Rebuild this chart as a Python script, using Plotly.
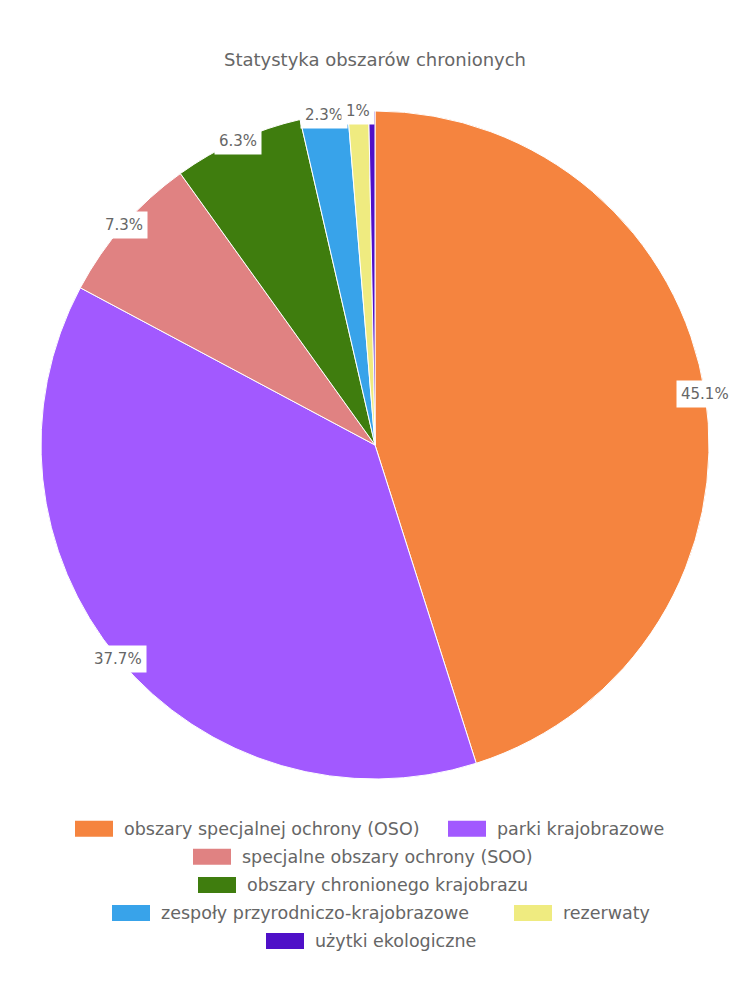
import math
import plotly.graph_objects as go

categories = [
    "obszary specjalnej ochrony (OSO)",
    "parki krajobrazowe",
    "specjalne obszary ochrony (SOO)",
    "obszary chronionego krajobrazu",
    "zespoły przyrodniczo-krajobrazowe",
    "rezerwaty",
    "użytki ekologiczne",
]
values = [45.1, 37.7, 7.3, 6.3, 2.3, 1.0, 0.3]
colors = ["#F5843F", "#A259FF", "#E08282", "#3F7D0E", "#38A3EA", "#EFEB80", "#4F10C8"]

W, H = 750, 1000
CX, CY, R = 375, 445, 334
FONT = "DejaVu Sans"
GRAY = "#666666"

fig = go.Figure()
fig.add_trace(go.Pie(
    labels=categories,
    values=values,
    sort=False,
    direction="clockwise",
    rotation=0,
    textinfo="none",
    hoverinfo="label+percent",
    marker=dict(colors=colors, line=dict(color="white", width=1)),
    domain=dict(x=[(CX - R) / W, (CX + R) / W], y=[1 - (CY + R) / H, 1 - (CY - R) / H]),
    showlegend=False,
))

annotations = []
shapes = []

# percentage labels on the rim
total = sum(values)
cum = 0.0
for v in values:
    mid = (cum + v / 2) / total * 2 * math.pi
    cum += v
    if v < 0.5:
        continue
    px = CX + R * math.sin(mid)
    py = CY - R * math.cos(mid)
    annotations.append(dict(
        x=px / W, y=1 - py / H, xref="paper", yref="paper",
        text=f"{v:g}%", showarrow=False,
        font=dict(family=FONT, size=15, color=GRAY),
        bgcolor="white", borderpad=4,
        xanchor="center", yanchor="middle",
    ))

# legend rows (box left x positions in px, row centre y)
legend_rows = [
    (828.7, [(0, 75), (1, 448)]),
    (856.8, [(2, 193)]),
    (884.9, [(3, 198)]),
    (913.0, [(4, 112), (5, 514)]),
    (941.0, [(6, 266)]),
]
BW, BH = 38, 16
for yc, items in legend_rows:
    for idx, bx in items:
        shapes.append(dict(
            type="rect", xref="paper", yref="paper",
            x0=bx / W, x1=(bx + BW) / W,
            y0=1 - (yc + BH / 2) / H, y1=1 - (yc - BH / 2) / H,
            fillcolor=colors[idx], line=dict(width=0),
        ))
        annotations.append(dict(
            x=(bx + BW + 9) / W, y=1 - yc / H, xref="paper", yref="paper",
            text=categories[idx], showarrow=False,
            font=dict(family=FONT, size=17.5, color=GRAY),
            xanchor="left", yanchor="middle",
        ))

fig.update_layout(
    width=W, height=H,
    margin=dict(l=0, r=0, t=0, b=0),
    paper_bgcolor="white", plot_bgcolor="white",
    title=dict(
        text="Statystyka obszarów chronionych",
        x=0.5, xanchor="center", y=1 - 60 / H, yanchor="middle",
        font=dict(family=FONT, size=18, color=GRAY),
    ),
    annotations=annotations,
    shapes=shapes,
)

fig.write_html("out.html")
